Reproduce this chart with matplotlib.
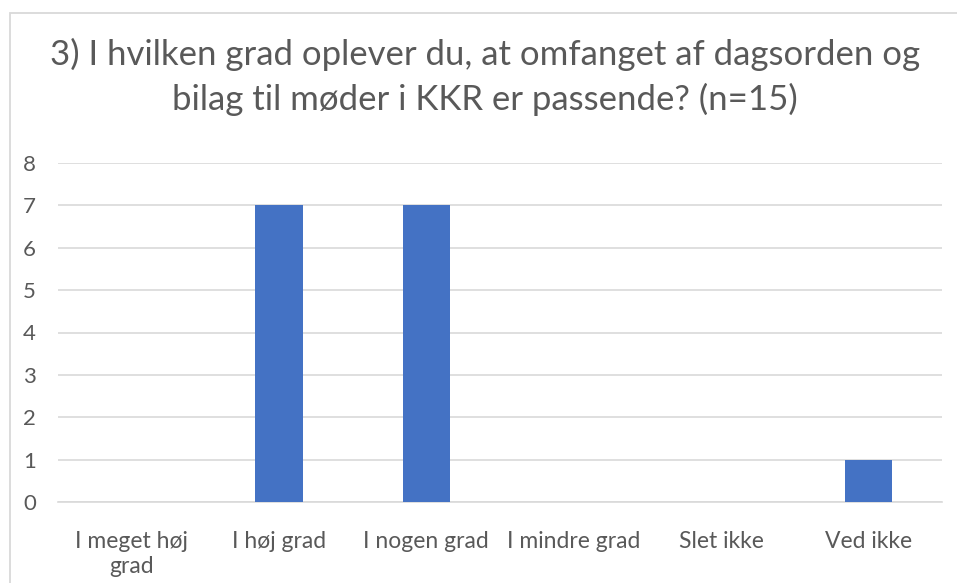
import numpy as np
import matplotlib.pyplot as plt
from matplotlib.patches import Rectangle

categories = ['I meget høj\ngrad', 'I høj grad', 'I nogen grad', 'I mindre grad', 'Slet ikke', 'Ved ikke']
counts = [0, 7, 7, 0, 0, 1]
yticks = [0, 1, 2, 3, 4, 5, 6, 7, 8]
title = '3) I hvilken grad oplever du, at omfanget af dagsorden og\nbilag til møder i KKR er passende? (n=15)'

W, H = 957, 583
txt = '#595959'
plt.rcParams['font.family'] = ['Lato', 'DejaVu Sans']

fig = plt.figure(figsize=(W / 100, H / 100), dpi=100, facecolor='w')

# light frame around the chart (runs off the right/bottom edges)
fig.patches.append(Rectangle((10 / W, -0.05), 1.2, 1 - 13 / H + 0.05,
                             transform=fig.transFigure, fill=False,
                             edgecolor='#D9D9D9', lw=1.3))

ax = fig.add_axes([58 / W, 81 / H, 884 / W, 339 / H])
x = np.arange(len(categories))
ax.bar(x, counts, width=0.32, color='#4472C4', zorder=3)

ax.set_xlim(-0.5, len(categories) - 0.5)
ax.set_ylim(0, 8)
ax.set_yticks(yticks)
ax.set_xticks(x)
ax.set_xticklabels(categories, fontsize=16.5, color=txt, linespacing=1.25)
ax.tick_params(axis='y', labelsize=16, labelcolor=txt, length=0, pad=16)
ax.tick_params(axis='x', length=0, pad=21)
ax.grid(axis='y', color='#D9D9D9', lw=1.2, zorder=0)
for s in ['top', 'right', 'left']:
    ax.spines[s].set_visible(False)
ax.spines['bottom'].set_color('#D9D9D9')
ax.spines['bottom'].set_linewidth(1.2)

fig.text(485 / W, 1 - 77 / H, title, ha='center', va='center',
         fontsize=25, color=txt, linespacing=1.42)

fig.savefig('out.png', dpi=100)
